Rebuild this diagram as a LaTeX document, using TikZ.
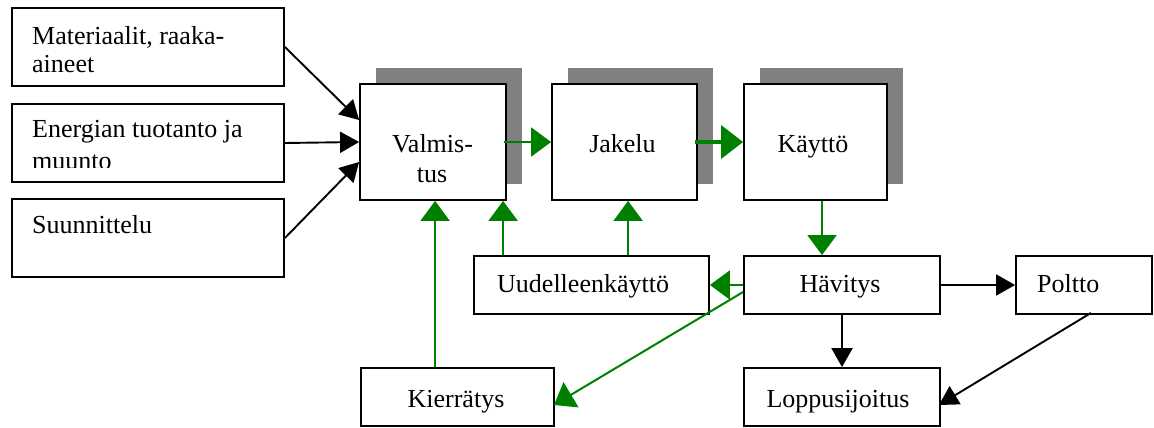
\documentclass[tikz,border=0pt]{standalone}
\usepackage{fontspec}
\setmainfont{Liberation Serif}
\usetikzlibrary{arrows.meta,calc,shadows}
\definecolor{flowgreen}{HTML}{008000}
\definecolor{shadegray}{HTML}{808080}
\begin{document}
\begin{tikzpicture}[x=1pt,y=-1pt,
  box/.style={draw=black, line width=1.8pt, fill=white, rectangle, inner sep=0pt},
  stagebox/.style={box, minimum width=145pt, minimum height=116pt,
    drop shadow={shadow xshift=16pt, shadow yshift=16pt, fill=shadegray, opacity=1}},
  lbl/.style={inner sep=0pt, font=\fontsize{26}{29}\selectfont},
  blackflow/.style={draw=black, line width=1.9pt, -{Triangle[length=19pt,width=21pt]}},
  greenflow/.style={draw=flowgreen, line width=2pt, -{Triangle[length=20pt,width=29pt]}},
  greenmain/.style={draw=flowgreen, line width=3.6pt, -{Triangle[length=22pt,width=33pt]}},
]
\useasboundingbox (0,0) rectangle (1154,428);

% input boxes on the left
\node[box, minimum width=272pt, minimum height=78pt] (mat) at (148,47) {};
\node[box, minimum width=272pt, minimum height=78pt] (ene) at (148,143) {};
\node[box, minimum width=272pt, minimum height=78pt] (suu) at (148,238) {};

% life-cycle stages with shadows
\node[stagebox, minimum width=146pt] (valm) at (433,142) {};
\node[stagebox] (jak) at (624.5,142) {};
\node[stagebox, minimum width=143pt] (kay) at (815.5,142) {};

% end-of-life boxes
\node[box, minimum width=235pt, minimum height=58pt] (uud) at (591.5,285) {};
\node[box, minimum width=196pt, minimum height=58pt] (hav) at (842,285) {};
\node[box, minimum width=136pt, minimum height=58pt] (pol) at (1084,285) {};
\node[box, minimum width=193pt, minimum height=58pt] (kie) at (457.5,397) {};
\node[box, minimum width=196pt, minimum height=58pt] (lop) at (842,397) {};

% labels
\node[lbl, anchor=base west] (tmat1) at (32,45) {Materiaalit, raaka-};
\node[lbl, anchor=base west] (tmat2) at (32,73) {aineet};
\node[lbl, anchor=base west] (tene1) at (32,137) {Energian tuotanto ja};
\begin{scope}
  % the second line runs past the text area and is cut off
  \clip (14,106) rectangle (282,167);
  \node[lbl, anchor=base west] (tene2) at (32,169.5) {muunto};
\end{scope}
\node[lbl, anchor=base west] (tsuu) at (32,233) {Suunnittelu};
\node[lbl, anchor=base] (tvalm1) at (432.5,152) {Valmis-};
\node[lbl, anchor=base] (tvalm2) at (432,182) {tus};
\node[lbl, anchor=base] (tjak) at (622.5,152) {Jakelu};
\node[lbl, anchor=base] (tkay) at (813,152) {Käyttö};
\node[lbl, anchor=base west] (tuud) at (497,292) {Uudelleenkäyttö};
\node[lbl, anchor=base] (thav) at (840,292) {Hävitys};
\node[lbl, anchor=base west] (tpol) at (1037,292) {Poltto};
\node[lbl, anchor=base] (tkie) at (456,407) {Kierrätys};
\node[lbl, anchor=base] (tlop) at (838,407) {Loppusijoitus};

% inputs into manufacturing
\draw[blackflow] (mat.east) -- ($(valm.west)+(0,-22)$);
\draw[blackflow] (ene.east) -- (valm.west);
\draw[blackflow] (suu.east) -- ($(valm.west)+(0,20)$);

% main chain
\draw[greenflow] ($(valm.east)+(-3,0)$) -- (jak.west);
\draw[greenmain] ($(jak.east)+(-3,0)$) -- (kay.west);
\coordinate (kout) at ($(kay.south)+(6.5,0)$);
\draw[greenflow] (kout) -- (kout |- hav.north);

% recovery loops
\draw[greenflow] (hav.west) -- (uud.east);
\draw[greenflow] ($(hav.west)+(0,7)$) -- ($(kie.east)+(-1,8)$);
\coordinate (u1) at ($(uud.north west)+(30,0)$);
\coordinate (u2) at ($(uud.north west)+(155,0)$);
\coordinate (k1) at ($(kie.north west)+(75,0)$);
\draw[greenflow] (u1) -- (u1 |- valm.south);
\draw[greenflow] (u2) -- (u2 |- jak.south);
\draw[greenflow] (k1) -- (k1 |- valm.south);

% disposal routes
\draw[blackflow] (hav.east) -- (pol.west);
\draw[blackflow] (hav.south) -- (lop.north);
\draw[blackflow] ($(pol.south)+(7,-2)$) -- ($(lop.east)+(-2,8)$);
\end{tikzpicture}
\end{document}
